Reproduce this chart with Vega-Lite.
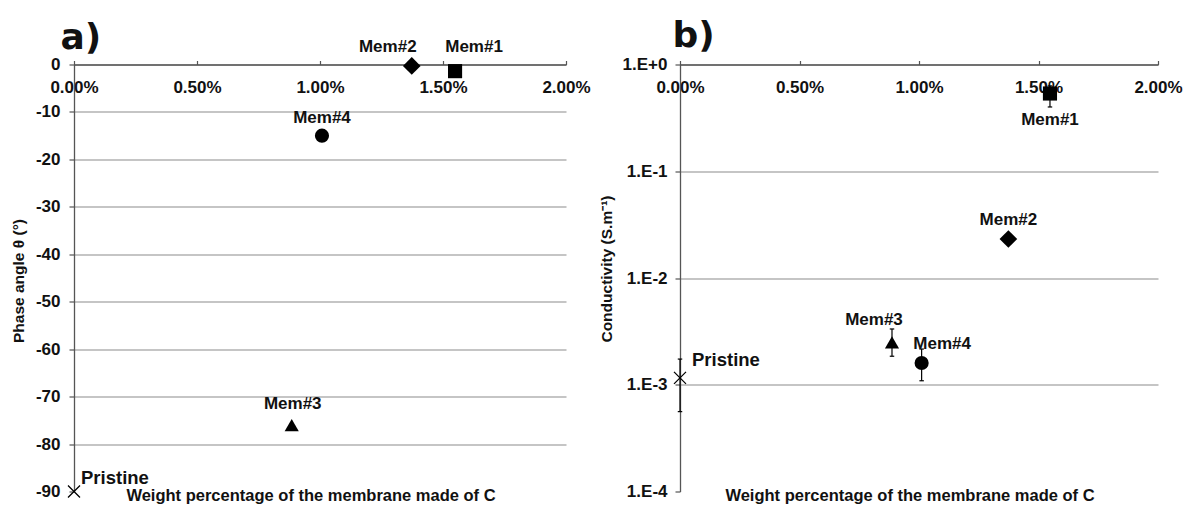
{
  "$schema": "https://vega.github.io/schema/vega-lite/v6.json",
  "background": "white",
  "padding": {"left": 11, "top": 17.5, "right": 0, "bottom": 0},
  "spacing": 8,
  "config": {
    "font": "Liberation Sans",
    "view": {"stroke": null},
    "axis": {
      "labelFont": "Liberation Sans", "labelFontWeight": "bold", "labelFontSize": 17, "labelColor": "#111111",
      "titleFont": "Liberation Sans", "titleFontWeight": "bold", "titleColor": "#111111",
      "domainColor": "#555555", "domainWidth": 1.3, "tickColor": "#555555", "tickWidth": 1.2,
      "gridColor": "#8c8c8c", "gridWidth": 1.2
    },
    "title": {"font": "Liberation Sans", "fontWeight": "bold", "fontSize": 16.5, "color": "#111111"}
  },
  "datasets": {
    "a": [
      {"sample": "Pristine", "wt": 0, "phase": -90},
      {"sample": "Mem#1", "wt": 0.01549, "phase": -1.4},
      {"sample": "Mem#2", "wt": 0.01373, "phase": -0.3},
      {"sample": "Mem#3", "wt": 0.00885, "phase": -76},
      {"sample": "Mem#4", "wt": 0.01008, "phase": -15}
    ],
    "b": [
      {"sample": "Pristine", "wt": 0, "cond": 0.00116, "lo": 0.00056, "hi": 0.00174},
      {"sample": "Mem#1", "wt": 0.01548, "cond": 0.535, "lo": 0.40, "hi": 0.63},
      {"sample": "Mem#2", "wt": 0.01374, "cond": 0.0232, "lo": null, "hi": null},
      {"sample": "Mem#3", "wt": 0.00887, "cond": 0.0025, "lo": 0.00185, "hi": 0.00333},
      {"sample": "Mem#4", "wt": 0.01011, "cond": 0.0016, "lo": 0.00109, "hi": 0.00216}
    ]
  },
  "hconcat": [
    {
      "width": 492, "height": 427,
      "title": {"text": "Weight percentage of the membrane made of C", "orient": "bottom", "anchor": "middle", "frame": "group", "offset": -12, "dx": -9},
      "data": {"name": "a"},
      "encoding": {
        "x": {"field": "wt", "type": "quantitative", "scale": {"domain": [0, 0.02], "nice": false, "zero": false},
          "axis": {"orient": "top", "values": [0, 0.005, 0.01, 0.015, 0.02], "format": ".2%", "labelFlush": false, "labelOverlap": false,
            "labelPadding": -32.4, "labelBaseline": "alphabetic", "tickSize": 4, "grid": false,
            "title": "a)", "titleFont": "DejaVu Sans", "titleFontSize": 36, "titleFontWeight": "bold", "titleX": -14, "titleY": -16,
            "titleAlign": "left", "titleBaseline": "alphabetic", "titleAnchor": "start", "titleAngle": 0}},
        "y": {"field": "phase", "type": "quantitative", "scale": {"domain": [-90, 0], "nice": false},
          "axis": {"values": [-90, -80, -70, -60, -50, -40, -30, -20, -10, 0], "labelExpr": "'' + datum.value", "tickSize": 5, "labelPadding": 9,
            "grid": true, "gridOpacity": {"condition": {"test": "datum.value === -90", "value": 0}, "value": 1},
            "title": "Phase angle θ (°)", "titleFontSize": 15.5, "titleX": -56, "titleY": 216, "titleAlign": "center", "titleBaseline": "middle", "titleAngle": -90}}
      },
      "layer": [
        {"transform": [{"filter": "datum.sample === 'Pristine'"}],
         "mark": {"type": "point", "shape": "M-1,-1L1,1M-1,1L1,-1", "size": 144, "filled": false, "stroke": "black", "strokeWidth": 1.3, "opacity": 1}},
        {"transform": [{"filter": "datum.sample !== 'Pristine'"}],
         "mark": {"type": "point", "filled": true, "color": "black", "size": 200, "opacity": 1},
         "encoding": {"shape": {"field": "sample", "type": "nominal", "scale": {"domain": ["Mem#1", "Mem#2", "Mem#3", "Mem#4"], "range": ["square", "M0,-1.25L1.25,0L0,1.25L-1.25,0Z", "triangle-up", "circle"]}, "legend": null}}},
        {"transform": [{"filter": "datum.sample === 'Mem#1'"}],
         "mark": {"type": "text", "font": "Liberation Sans", "fontWeight": "bold", "fontSize": 17, "color": "#111111", "dx": 19, "dy": -19, "align": "center", "baseline": "alphabetic"},
         "encoding": {"text": {"field": "sample"}}},
        {"transform": [{"filter": "datum.sample === 'Mem#2'"}],
         "mark": {"type": "text", "font": "Liberation Sans", "fontWeight": "bold", "fontSize": 17, "color": "#111111", "dx": -24, "dy": -14, "align": "center", "baseline": "alphabetic"},
         "encoding": {"text": {"field": "sample"}}},
        {"transform": [{"filter": "datum.sample === 'Mem#3'"}],
         "mark": {"type": "text", "font": "Liberation Sans", "fontWeight": "bold", "fontSize": 17, "color": "#111111", "dx": 1, "dy": -16, "align": "center", "baseline": "alphabetic"},
         "encoding": {"text": {"field": "sample"}}},
        {"transform": [{"filter": "datum.sample === 'Mem#4'"}],
         "mark": {"type": "text", "font": "Liberation Sans", "fontWeight": "bold", "fontSize": 17, "color": "#111111", "dx": 0, "dy": -13, "align": "center", "baseline": "alphabetic"},
         "encoding": {"text": {"field": "sample"}}},
        {"transform": [{"filter": "datum.sample === 'Pristine'"}],
         "mark": {"type": "text", "font": "Liberation Sans", "fontWeight": "bold", "fontSize": 18.5, "color": "#111111", "dx": 7, "dy": -7.5, "align": "left", "baseline": "alphabetic"},
         "encoding": {"text": {"field": "sample"}}}
      ]
    },
    {
      "width": 478, "height": 427,
      "title": {"text": "Weight percentage of the membrane made of C", "orient": "bottom", "anchor": "middle", "frame": "group", "offset": -12, "dx": -9},
      "data": {"name": "b"},
      "encoding": {
        "x": {"field": "wt", "type": "quantitative", "scale": {"domain": [0, 0.02], "nice": false, "zero": false},
          "axis": {"orient": "top", "values": [0, 0.005, 0.01, 0.015, 0.02], "format": ".2%", "labelFlush": false, "labelOverlap": false,
            "labelPadding": -32.4, "labelBaseline": "alphabetic", "tickSize": 4, "grid": false,
            "title": "b)", "titleFont": "DejaVu Sans", "titleFontSize": 36, "titleFontWeight": "bold", "titleX": -8, "titleY": -17.7,
            "titleAlign": "left", "titleBaseline": "alphabetic", "titleAnchor": "start", "titleAngle": 0}},
        "y": {"field": "cond", "type": "quantitative", "title": "Conductivity (S.m⁻¹)", "scale": {"type": "log", "domain": [0.0001, 1], "nice": false},
          "axis": {"values": [0.0001, 0.001, 0.01, 0.1, 1], "labelExpr": "datum.value >= 1 ? '1.E+0' : '1.E' + round(log(datum.value) / LN10)", "tickSize": 5, "labelPadding": 8,
            "grid": true, "gridOpacity": {"condition": {"test": "datum.value < 0.0005", "value": 0}, "value": 1},
            "title": "Conductivity (S.m⁻¹)", "titleFontSize": 15.5, "titleX": -73.7, "titleY": 204, "titleAlign": "center", "titleBaseline": "middle", "titleAngle": -90}}
      },
      "layer": [
        {"transform": [{"filter": "isValid(datum.lo)"}],
         "mark": {"type": "rule", "color": "black", "strokeWidth": 1.2},
         "encoding": {"y": {"field": "lo", "type": "quantitative", "title": "Conductivity (S.m⁻¹)"}, "y2": {"field": "hi"}}},
        {"transform": [{"filter": "isValid(datum.lo)"}],
         "mark": {"type": "point", "shape": "M-1,0L1,0", "size": 20, "filled": false, "stroke": "black", "strokeWidth": 1.2, "opacity": 1},
         "encoding": {"y": {"field": "lo", "type": "quantitative", "title": "Conductivity (S.m⁻¹)"}}},
        {"transform": [{"filter": "isValid(datum.hi)"}],
         "mark": {"type": "point", "shape": "M-1,0L1,0", "size": 20, "filled": false, "stroke": "black", "strokeWidth": 1.2, "opacity": 1},
         "encoding": {"y": {"field": "hi", "type": "quantitative", "title": "Conductivity (S.m⁻¹)"}}},
        {"transform": [{"filter": "datum.sample === 'Pristine'"}],
         "mark": {"type": "point", "shape": "M-1,-1L1,1M-1,1L1,-1", "size": 144, "filled": false, "stroke": "black", "strokeWidth": 1.3, "opacity": 1}},
        {"transform": [{"filter": "datum.sample !== 'Pristine'"}],
         "mark": {"type": "point", "filled": true, "color": "black", "size": 200, "opacity": 1},
         "encoding": {"shape": {"field": "sample", "type": "nominal", "scale": {"domain": ["Mem#1", "Mem#2", "Mem#3", "Mem#4"], "range": ["square", "M0,-1.25L1.25,0L0,1.25L-1.25,0Z", "triangle-up", "circle"]}, "legend": null}}},
        {"transform": [{"filter": "datum.sample === 'Mem#1'"}],
         "mark": {"type": "text", "font": "Liberation Sans", "fontWeight": "bold", "fontSize": 17, "color": "#111111", "dx": 0, "dy": 32, "align": "center", "baseline": "alphabetic"},
         "encoding": {"text": {"field": "sample"}}},
        {"transform": [{"filter": "datum.sample === 'Mem#2'"}],
         "mark": {"type": "text", "font": "Liberation Sans", "fontWeight": "bold", "fontSize": 17, "color": "#111111", "dx": 0, "dy": -14, "align": "center", "baseline": "alphabetic"},
         "encoding": {"text": {"field": "sample"}}},
        {"transform": [{"filter": "datum.sample === 'Mem#3'"}],
         "mark": {"type": "text", "font": "Liberation Sans", "fontWeight": "bold", "fontSize": 17, "color": "#111111", "dx": -18, "dy": -17, "align": "center", "baseline": "alphabetic"},
         "encoding": {"text": {"field": "sample"}}},
        {"transform": [{"filter": "datum.sample === 'Mem#4'"}],
         "mark": {"type": "text", "font": "Liberation Sans", "fontWeight": "bold", "fontSize": 17, "color": "#111111", "dx": 20.5, "dy": -14, "align": "center", "baseline": "alphabetic"},
         "encoding": {"text": {"field": "sample"}}},
        {"transform": [{"filter": "datum.sample === 'Pristine'"}],
         "mark": {"type": "text", "font": "Liberation Sans", "fontWeight": "bold", "fontSize": 18.5, "color": "#111111", "dx": 12, "dy": -11.6, "align": "left", "baseline": "alphabetic"},
         "encoding": {"text": {"field": "sample"}}}
      ]
    }
  ]
}
